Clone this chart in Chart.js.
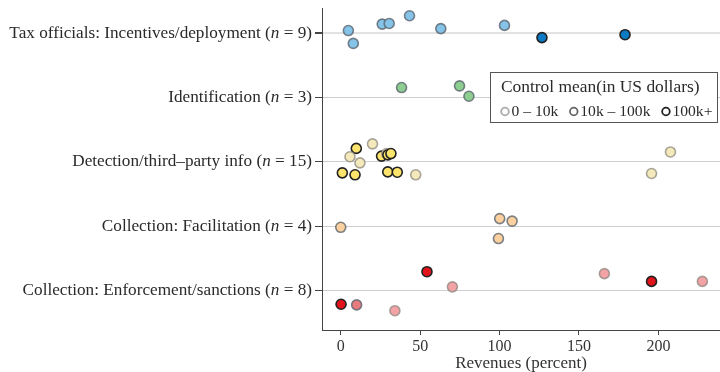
<!DOCTYPE html>
<html>
<head>
<meta charset="utf-8">
<script src="https://cdn.jsdelivr.net/npm/chart.js@4.4.1/dist/chart.umd.min.js"></script>
<style>
  html, body { margin: 0; padding: 0; background: #fff; }
  #wrap { width: 720px; height: 372px; }
</style>
</head>
<body>
<div id="wrap"><canvas id="chart" width="720" height="372"></canvas></div>
<script>
// Intervention categories, top to bottom, with the number of studies in each
const categories = [
  'Tax officials: Incentives/deployment',
  'Identification',
  'Detection/third\u2013party info',
  'Collection: Facilitation',
  'Collection: Enforcement/sanctions'
];
const counts = [9, 3, 15, 4, 8];

// Revenue effects (percent); jitter = vertical offset inside the row; tier = control-mean bracket
const taxValues = [4.8, 7.9, 26.1, 30.5, 43.3, 63.0, 103.1, 126.7, 179.0];
const taxJitter = [0.04, -0.16, 0.14, 0.15, 0.27, 0.07, 0.12, -0.07, -0.025];
const taxTier   = [1, 1, 1, 1, 1, 1, 1, 2, 2];

const idValues = [38.3, 74.8, 80.7];
const idJitter = [0.155, 0.18, 0.02];
const idTier   = [1, 1, 1];

const detValues = [9.8, 20.0, 5.8, 12.1, 25.7, 28.9, 29.7, 31.6, 1.0, 9.0, 29.6, 35.6, 47.2, 195.7, 207.6];
const detJitter = [0.21, 0.28, 0.08, -0.015, 0.09, 0.13, 0.11, 0.13, -0.17, -0.2, -0.155, -0.16, -0.2, -0.18, 0.155];
const detTier   = [2, 0, 0, 0, 2, 0, 2, 2, 2, 2, 2, 2, 0, 0, 0];

const facValues = [0.0, 100.1, 107.9, 99.3];
const facJitter = [-0.015, 0.12, 0.08, -0.19];
const facTier   = [1, 1, 1, 1];

const enfValues = [0.2, 10.0, 34.1, 54.3, 70.3, 166.0, 195.7, 227.7];
const enfJitter = [-0.21, -0.22, -0.31, 0.295, 0.06, 0.265, 0.145, 0.145];
const enfTier   = [2, 1, 0, 2, 0, 0, 2, 0];

const xTicks = [0, 50, 100, 150, 200];
const tierLabels = ['0 \u2013 10k', '10k \u2013 100k', '100k+'];

// Fill shades per category, indexed by tier (light, medium, dark)
const bluePalette   = ['#b6dcf2', '#86c3e8', '#0a7bc4'];
const greenPalette  = ['#c4e6c5', '#8ecf91', '#2f9e44'];
const yellowPalette = ['#f4e9bb', '#f8df8a', '#fde46c'];
const peachPalette  = ['#fde5c6', '#fdd19f', '#f59b3a'];
const redPalette    = ['#f3a3a6', '#e97b7e', '#e1141b'];
const tierBorders   = ['rgba(140,135,125,0.75)', 'rgba(90,100,110,0.8)', '#222222'];
const legendBorders = ['#aaaaaa', '#666666', '#222222'];

const SERIF = '"Liberation Serif", "DejaVu Serif", serif';

function rowDataset(catIdx, values, jitter, tiers, palette) {
  const base = categories.length - catIdx;
  return {
    data: values.map((v, i) => ({ x: v, y: base + jitter[i] })),
    backgroundColor: tiers.map(t => palette[t]),
    borderColor: tiers.map(t => tierBorders[t]),
    borderWidth: 1.6,
    pointRadius: 5,
    pointHoverRadius: 5
  };
}

const datasets = [
  rowDataset(0, taxValues, taxJitter, taxTier, bluePalette),
  rowDataset(1, idValues, idJitter, idTier, greenPalette),
  rowDataset(2, detValues, detJitter, detTier, yellowPalette),
  rowDataset(3, facValues, facJitter, facTier, peachPalette),
  rowDataset(4, enfValues, enfJitter, enfTier, redPalette)
];

// Row labels with an italic "n"
const rowLabels = {
  id: 'rowLabels',
  afterDraw(chart) {
    const ctx = chart.ctx;
    const y = chart.scales.y;
    const right = chart.chartArea.left - 10;
    const size = '17.2px ';
    ctx.save();
    ctx.fillStyle = '#2a2a2a';
    ctx.textBaseline = 'middle';
    ctx.textAlign = 'left';
    categories.forEach((name, i) => {
      const py = y.getPixelForValue(categories.length - i);
      const parts = [
        { t: name + ' (', f: size + SERIF },
        { t: 'n', f: 'italic ' + size + SERIF },
        { t: ' = ' + counts[i] + ')', f: size + SERIF }
      ];
      let total = 0;
      parts.forEach(p => { ctx.font = p.f; p.w = ctx.measureText(p.t).width; total += p.w; });
      let x = right - total;
      parts.forEach(p => { ctx.font = p.f; ctx.fillText(p.t, x, py); x += p.w; });
    });
    ctx.restore();
  }
};

// Boxed key for the control-mean brackets
const controlKey = {
  id: 'controlKey',
  afterDraw(chart) {
    const ctx = chart.ctx;
    ctx.save();
    ctx.fillStyle = '#ffffff';
    ctx.fillRect(490, 72, 228, 51);
    ctx.strokeStyle = '#555';
    ctx.lineWidth = 1;
    ctx.strokeRect(490.5, 72.5, 227, 50);
    ctx.fillStyle = '#2a2a2a';
    ctx.textBaseline = 'middle';
    ctx.textAlign = 'left';
    ctx.font = '17.4px ' + SERIF;
    ctx.fillText('Control mean(in US dollars)', 501, 87);
    ctx.font = '15.6px ' + SERIF;
    let x = 505;
    tierLabels.forEach((lab, i) => {
      ctx.beginPath();
      ctx.arc(x, 111.5, 3.8, 0, Math.PI * 2);
      ctx.strokeStyle = legendBorders[i];
      ctx.lineWidth = 1.8;
      ctx.stroke();
      ctx.fillText(lab, x + 6.5, 111.5);
      x += 6.5 + ctx.measureText(lab).width + 15.5;
    });
    ctx.restore();
  }
};

new Chart(document.getElementById('chart'), {
  type: 'scatter',
  data: { datasets },
  options: {
    responsive: false,
    animation: false,
    events: [],
    layout: { autoPadding: false, padding: { top: 8, right: 0, bottom: 0, left: 0 } },
    plugins: { legend: { display: false }, tooltip: { enabled: false } },
    scales: {
      x: {
        type: 'linear',
        min: -11.8,
        max: 238.8,
        afterBuildTicks: s => { s.ticks = xTicks.map(v => ({ value: v })); },
        grid: { drawOnChartArea: false, drawTicks: true, tickLength: 5, tickColor: '#444' },
        border: { color: '#444', width: 1 },
        ticks: { font: { family: SERIF, size: 16 }, color: '#333', padding: 2, maxRotation: 0 },
        title: { display: true, text: 'Revenues (percent)', font: { family: SERIF, size: 17, lineHeight: 1 }, color: '#333', padding: { top: 0, bottom: 0 } },
        afterFit: s => { s.height = 42; s.paddingLeft = 0; s.paddingRight = 0; }
      },
      y: {
        type: 'linear',
        min: 0.39,
        max: 5.39,
        afterBuildTicks: s => { s.ticks = categories.map((c, i) => ({ value: categories.length - i })); },
        grid: {
          color: ctx => (ctx.tick && ctx.tick.value === 5) ? '#e2e2e2' : '#cfcfcf',
          lineWidth: ctx => (ctx.tick && ctx.tick.value === 5) ? 2 : 1,
          drawTicks: true, tickLength: 7, tickColor: '#444'
        },
        border: { color: '#444', width: 1 },
        ticks: { display: false },
        afterFit: s => { s.width = 322; s.paddingTop = 0; s.paddingBottom = 0; }
      }
    }
  },
  plugins: [rowLabels, controlKey]
});
</script>
</body>
</html>
